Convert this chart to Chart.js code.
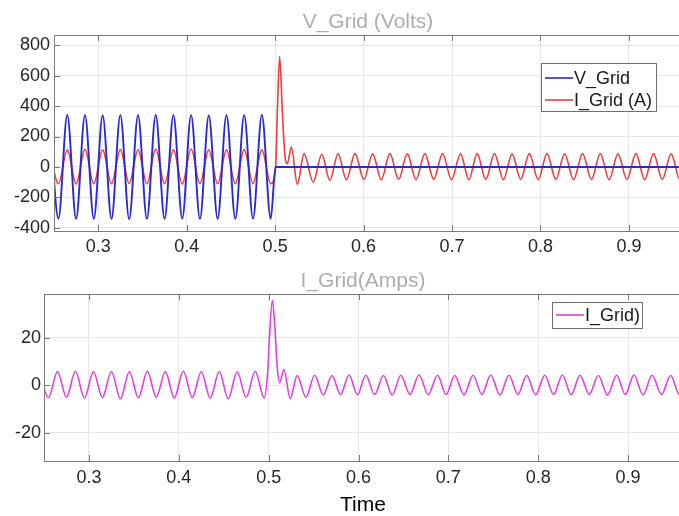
<!DOCTYPE html>
<html>
<head>
<meta charset="utf-8">
<script src="https://cdn.jsdelivr.net/npm/chart.js@4.4.1/dist/chart.umd.min.js"></script>
<style>
  body { margin: 0; overflow: hidden; background: #fff; width: 679px; height: 516px; }
  .box { position: absolute; left: 0; }
</style>
</head>
<body>
<div class="box" style="top:0;width:682px;height:260px"><canvas id="gridChart"></canvas></div>
<div class="box" style="top:260px;width:682px;height:258px"><canvas id="ampsChart"></canvas></div>
<script>
// peaks / troughs of the steady 50 Hz part before the fault (shared times)
const tCycle = [0.245, 0.255, 0.265, 0.275, 0.285, 0.295, 0.305, 0.315, 0.325, 0.335, 0.345, 0.355, 0.365,
  0.375, 0.385, 0.395, 0.405, 0.415, 0.425, 0.435, 0.445, 0.455, 0.465, 0.475, 0.485, 0.495];
const vGridCycle = [340, -338, 342, -340, 340, -340, 338, -340, 340, -342, 340, -340, 342,
  -340, 340, -338, 340, -340, 338, -340, 340, -340, 340, -338, 342, -340];
const iGridCycle = [112, -110, 112, -112, 115, -110, 112, -110, 114, -108, 112, -110, 116,
  -110, 112, -112, 118, -110, 112, -110, 112, -110, 114, -108, 112, -110];
const iAmpsCycle = [5.8, -5.2, 5.9, -5.0, 6.0, -5.3, 5.8, -5.1, 5.9, -5.6, 5.8, -5.2, 6.0,
  -5.0, 5.9, -5.3, 6.1, -5.2, 5.8, -5.4, 5.9, -5.6, 5.8, -5.1, 6.0, -5.2];

// after 0.5 s
const tVPost = [0.5005, 0.97];
const vGridPost = [0, 0];

const tIPost = [0.5006, 0.5025, 0.5051, 0.5082, 0.5110, 0.5138, 0.5183, 0.5251, 0.5327, 0.5430,
  0.5527, 0.5619, 0.5711, 0.5807, 0.5903, 0.6003, 0.6103, 0.6200, 0.6298, 0.6396,
  0.6494, 0.6593, 0.6693, 0.6793, 0.6893, 0.6994, 0.7096, 0.7190, 0.7284, 0.7382,
  0.7480, 0.7580, 0.7679, 0.7776, 0.7874, 0.7974, 0.8074, 0.8173, 0.8273, 0.8374,
  0.8476, 0.8576, 0.8676, 0.8776, 0.8876, 0.8977, 0.9079, 0.9178, 0.9278, 0.9377,
  0.9477, 0.9577, 0.9677];
const iGridPost = [0, 360, 724, 360, 80, 22, 131, -114, 88, -100,
  84, -88, 86, -84, 88, -82, 86, -84, 88, -82,
  86, -84, 88, -82, 88, -84, 86, -84, 88, -82,
  88, -84, 86, -82, 88, -84, 88, -82, 86, -84,
  88, -82, 88, -84, 86, -82, 88, -84, 88, -82,
  86, -84, 88];

const tAmpsPost = [0.4990, 0.5006, 0.5041, 0.5070, 0.5095, 0.5122, 0.5170, 0.5240, 0.5317, 0.5415,
  0.5512, 0.5608, 0.5704, 0.5800, 0.5895, 0.5988, 0.6081, 0.6180, 0.6278, 0.6375,
  0.6471, 0.6572, 0.6674, 0.6776, 0.6879, 0.6975, 0.7071, 0.7173, 0.7275, 0.7373,
  0.7472, 0.7573, 0.7675, 0.7773, 0.7872, 0.7972, 0.8073, 0.8171, 0.8269, 0.8367,
  0.8465, 0.8567, 0.8669, 0.8771, 0.8873, 0.8969, 0.9065, 0.9166, 0.9268, 0.9371,
  0.9474, 0.9572, 0.9670];
const iAmpsPost = [6, 18, 35.9, 24, 8, 1.1, 6.7, -5.6, 4.2, -5.0,
  4.3, -4.0, 4.2, -3.8, 4.4, -3.9, 4.3, -3.8, 4.2, -4.0,
  4.3, -3.8, 4.4, -3.9, 4.3, -3.8, 4.2, -3.9, 4.3, -3.8,
  4.4, -4.0, 4.3, -3.8, 4.2, -3.9, 4.3, -3.8, 4.4, -3.9,
  4.3, -3.8, 4.2, -4.0, 4.3, -3.8, 4.4, -3.9, 4.3, -3.8,
  4.2, -3.9, 4.3];

const timeTicks = [0.3, 0.4, 0.5, 0.6, 0.7, 0.8, 0.9];
const gridYTicks = [-400, -200, 0, 200, 400, 600, 800];
const ampsYTicks = [-20, 0, 20];

const toPoints = (ts, vs) => ts.map((t, i) => ({ x: t, y: vs[i] }));

// matlab-like box, inner ticks, title and boxed legend
const matlabAxes = {
  id: 'matlabAxes',
  afterDraw(chart, args, opts) {
    const { ctx, chartArea: a, scales } = chart;
    ctx.save();
    ctx.strokeStyle = '#7a7a7a';
    ctx.lineWidth = 1;
    ctx.strokeRect(a.left + 0.5, a.top + 0.5, a.right - a.left, a.bottom - a.top);
    ctx.beginPath();
    scales.x.ticks.forEach(t => {
      const px = Math.round(scales.x.getPixelForValue(t.value)) + 0.5;
      ctx.moveTo(px, a.bottom); ctx.lineTo(px, a.bottom - 6);
      ctx.moveTo(px, a.top); ctx.lineTo(px, a.top + 6);
    });
    scales.y.ticks.forEach(t => {
      const py = Math.round(scales.y.getPixelForValue(t.value)) + 0.5;
      ctx.moveTo(a.left, py); ctx.lineTo(a.left + 6, py);
    });
    ctx.stroke();

    // title
    ctx.fillStyle = '#adadad';
    ctx.font = '21px "Liberation Sans", Arial, sans-serif';
    ctx.textAlign = 'center';
    ctx.textBaseline = 'alphabetic';
    ctx.fillText(opts.title, (a.left + a.right) / 2, opts.titleY);

    // legend
    const L = opts.legend;
    ctx.fillStyle = '#fff';
    ctx.fillRect(L.x, L.y, L.w, L.h);
    ctx.strokeStyle = '#6e6e6e';
    ctx.strokeRect(L.x + 0.5, L.y + 0.5, L.w, L.h);
    ctx.font = '18px "Liberation Sans", Arial, sans-serif';
    ctx.textAlign = 'left';
    ctx.textBaseline = 'middle';
    chart.data.datasets.forEach((ds, i) => {
      const y = L.y + L.row0 + i * L.rowGap;
      ctx.strokeStyle = ds.borderColor;
      ctx.lineWidth = 1.6;
      ctx.beginPath();
      ctx.moveTo(L.x + 4, y); ctx.lineTo(L.x + 32, y);
      ctx.stroke();
      ctx.fillStyle = '#1a1a1a';
      ctx.fillText(ds.label, L.x + 33, y + 1);
    });
    ctx.restore();
  }
};

function axisOptions(yTicks, yMin, yMax, yWidth, xHeight, yPad, xPad, xTitle) {
  return {
    x: {
      type: 'linear', min: 0.25, max: 0.96,
      afterBuildTicks: s => { s.ticks = timeTicks.map(v => ({ value: v })); },
      afterFit: s => { s.height = xHeight; },
      grid: { color: '#e6e6e6', drawTicks: false },
      border: { display: false },
      ticks: { padding: xPad, color: '#262626', font: { size: 18, family: '"Liberation Sans", Arial, sans-serif' },
        callback: v => String(v), maxRotation: 0 },
      title: xTitle ? { display: true, text: xTitle, color: '#000', padding: 0,
        font: { size: 21, family: '"Liberation Sans", Arial, sans-serif' } } : { display: false }
    },
    y: {
      min: yMin, max: yMax,
      afterBuildTicks: s => { s.ticks = yTicks.map(v => ({ value: v })); },
      afterFit: s => { s.width = yWidth; },
      grid: { color: '#e6e6e6', drawTicks: false },
      border: { display: false },
      ticks: { padding: yPad, color: '#262626', font: { size: 18, family: '"Liberation Sans", Arial, sans-serif' } }
    }
  };
}

const common = {
  responsive: true,
  maintainAspectRatio: false,
  animation: false,
  devicePixelRatio: 1,
  elements: { point: { radius: 0 }, line: { borderWidth: 1.6, cubicInterpolationMode: 'monotone' } },
};

new Chart(document.getElementById('gridChart'), {
  type: 'line',
  data: {
    datasets: [
      { label: 'V_Grid', data: toPoints(tCycle.concat(tVPost), vGridCycle.concat(vGridPost)), borderColor: '#2a2ad2', borderWidth: 1.9 },
      { label: 'I_Grid (A)', data: toPoints(tCycle.concat(tIPost), iGridCycle.concat(iGridPost)), borderColor: '#ee3c3c' }
    ]
  },
  options: {
    ...common,
    layout: { padding: { top: 35, left: 0, right: 0, bottom: 0 } },
    scales: axisOptions(gridYTicks, -420, 866, 54, 29, 4, 5),
    plugins: {
      legend: { display: false },
      tooltip: { enabled: false },
      matlabAxes: { title: 'V_Grid (Volts)', titleY: 28,
        legend: { x: 541, y: 63, w: 115, h: 48, row0: 15, rowGap: 22 } }
    }
  },
  plugins: [matlabAxes]
});

new Chart(document.getElementById('ampsChart'), {
  type: 'line',
  data: {
    datasets: [
      { label: 'I_Grid)', data: toPoints(tCycle.concat(tAmpsPost), iAmpsCycle.concat(iAmpsPost)), borderColor: '#e040e0' }
    ]
  },
  options: {
    ...common,
    layout: { padding: { top: 34, left: 0, right: 0, bottom: 0 } },
    scales: axisOptions(ampsYTicks, -31.8, 38.5, 44, 57, 3, 6, 'Time'),
    plugins: {
      legend: { display: false },
      tooltip: { enabled: false },
      matlabAxes: { title: 'I_Grid(Amps)', titleY: 27,
        legend: { x: 552, y: 42, w: 90, h: 26, row0: 13, rowGap: 22 } }
    }
  },
  plugins: [matlabAxes]
});
</script>
</body>
</html>
